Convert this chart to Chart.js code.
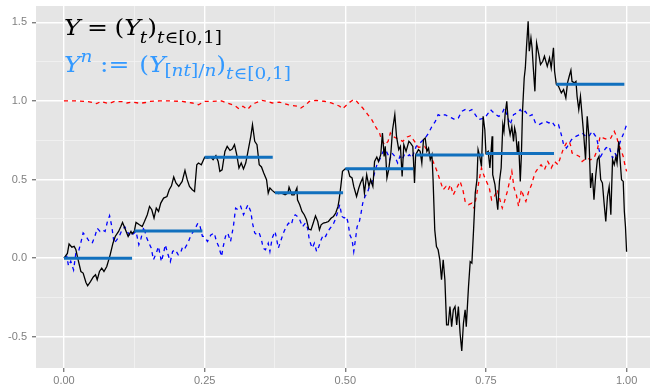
<!DOCTYPE html>
<html>
<head>
<meta charset="utf-8">
<script src="https://cdn.jsdelivr.net/npm/chart.js@4.4.1/dist/chart.umd.min.js"></script>
<style>
  html, body { margin: 0; padding: 0; background: #ffffff; }
  #wrap { width: 650px; height: 387px; position: relative; }
</style>
</head>
<body>
<div id="wrap"><canvas id="chart"></canvas></div>
<script>
// 路径 Y_t：[t, 值]
const pathY = [[0,0],[0.006,0.03],[0.009,0.09],[0.014,0.07],[0.018,0.075],[0.021,0.055],[0.025,-0.01],[0.030,-0.085],[0.034,-0.095],[0.039,-0.155],[0.042,-0.176],[0.047,-0.149],[0.052,-0.12],[0.056,-0.106],[0.059,-0.138],[0.063,-0.085],[0.067,-0.064],[0.071,-0.085],[0.076,-0.053],[0.082,0.021],[0.087,0.095],[0.091,0.138],[0.097,0.17],[0.101,0.201],[0.104,0.227],[0.108,0.191],[0.114,0.138],[0.119,0.17],[0.121,0.155],[0.125,0.172],[0.128,0.227],[0.134,0.212],[0.139,0.201],[0.143,0.233],[0.148,0.276],[0.152,0.329],[0.156,0.308],[0.160,0.255],[0.164,0.318],[0.168,0.297],[0.172,0.35],[0.177,0.382],[0.183,0.392],[0.187,0.435],[0.191,0.46],[0.195,0.516],[0.199,0.478],[0.204,0.456],[0.210,0.488],[0.215,0.558],[0.219,0.499],[0.223,0.456],[0.228,0.435],[0.232,0.424],[0.236,0.594],[0.239,0.605],[0.244,0.594],[0.248,0.626],[0.250,0.641],[0.255,0.637],[0.261,0.643],[0.265,0.626],[0.270,0.652],[0.274,0.615],[0.277,0.552],[0.281,0.562],[0.286,0.679],[0.290,0.711],[0.295,0.685],[0.299,0.694],[0.303,0.722],[0.307,0.658],[0.311,0.573],[0.315,0.605],[0.319,0.567],[0.323,0.605],[0.327,0.679],[0.332,0.775],[0.335,0.849],[0.339,0.743],[0.343,0.722],[0.347,0.594],[0.351,0.58],[0.355,0.541],[0.360,0.499],[0.363,0.414],[0.366,0.446],[0.370,0.431],[0.375,0.416],[0.381,0.41],[0.387,0.414],[0.393,0.403],[0.398,0.414],[0.400,0.452],[0.405,0.403],[0.409,0.403],[0.414,0.446],[0.415,0.371],[0.419,0.34],[0.423,0.297],[0.427,0.276],[0.431,0.244],[0.435,0.185],[0.439,0.18],[0.443,0.223],[0.447,0.269],[0.451,0.233],[0.454,0.18],[0.457,0.212],[0.461,0.223],[0.466,0.227],[0.470,0.233],[0.475,0.255],[0.479,0.265],[0.483,0.287],[0.487,0.329],[0.489,0.371],[0.492,0.456],[0.495,0.552],[0.500,0.569],[0.505,0.562],[0.508,0.52],[0.512,0.51],[0.515,0.456],[0.520,0.392],[0.524,0.446],[0.527,0.478],[0.531,0.51],[0.534,0.414],[0.538,0.531],[0.542,0.456],[0.545,0.499],[0.549,0.456],[0.552,0.615],[0.556,0.643],[0.559,0.615],[0.563,0.658],[0.566,0.796],[0.569,0.647],[0.571,0.711],[0.574,0.51],[0.577,0.562],[0.581,0.669],[0.584,0.817],[0.588,0.913],[0.591,0.775],[0.595,0.69],[0.598,0.711],[0.601,0.52],[0.604,0.722],[0.608,0.679],[0.613,0.743],[0.616,0.732],[0.620,0.711],[0.623,0.478],[0.625,0.656],[0.630,0.69],[0.633,0.679],[0.636,0.605],[0.639,0.754],[0.642,0.764],[0.645,0.679],[0.648,0.7],[0.651,0.626],[0.654,0.658],[0.656,0.499],[0.659,0.18],[0.662,0.074],[0.665,0.053],[0.668,-0.011],[0.671,-0.138],[0.674,-0.011],[0.677,-0.138],[0.680,-0.425],[0.683,-0.425],[0.686,-0.308],[0.689,-0.436],[0.692,-0.329],[0.695,-0.308],[0.698,-0.425],[0.701,-0.308],[0.704,-0.478],[0.707,-0.59],[0.710,-0.414],[0.713,-0.329],[0.715,-0.436],[0.719,-0.181],[0.722,-0.022],[0.725,-0.032],[0.728,0.18],[0.731,0.414],[0.734,0.499],[0.736,0.69],[0.739,0.647],[0.742,0.583],[0.745,0.902],[0.748,0.817],[0.750,0.666],[0.754,0.679],[0.757,0.573],[0.761,0.775],[0.762,0.531],[0.766,0.467],[0.768,0.403],[0.771,0.308],[0.774,0.488],[0.777,0.573],[0.780,0.849],[0.782,0.806],[0.784,0.913],[0.787,0.997],[0.790,0.849],[0.793,0.785],[0.796,0.838],[0.799,0.743],[0.801,0.828],[0.803,0.796],[0.806,0.658],[0.808,0.743],[0.811,0.488],[0.813,0.658],[0.815,0.934],[0.818,1.146],[0.820,1.21],[0.822,1.338],[0.825,1.507],[0.827,1.316],[0.830,1.401],[0.832,1.338],[0.834,1.22],[0.837,1.061],[0.840,1.369],[0.844,1.295],[0.847,1.231],[0.851,1.252],[0.854,1.284],[0.859,1.22],[0.863,1.274],[0.866,1.21],[0.870,1.338],[0.872,1.189],[0.875,1.106],[0.879,1.093],[0.884,1.051],[0.888,1.072],[0.892,1.019],[0.895,1.115],[0.898,1.157],[0.901,1.195],[0.903,1.125],[0.907,1.115],[0.910,1.125],[0.912,1.029],[0.915,0.945],[0.918,1.029],[0.921,0.902],[0.924,0.775],[0.927,0.626],[0.930,0.902],[0.933,0.775],[0.936,0.446],[0.939,0.541],[0.942,0.371],[0.945,0.52],[0.948,0.626],[0.951,0.647],[0.954,0.499],[0.957,0.478],[0.960,0.35],[0.963,0.233],[0.966,0.392],[0.969,0.456],[0.972,0.276],[0.975,0.626],[0.978,0.594],[0.981,0.647],[0.983,0.605],[0.986,0.743],[0.988,0.647],[0.991,0.499],[0.994,0.488],[0.996,0.297],[0.998,0.2],[1.0,0.04]];

// 蓝色虚线
const blueDash = [[0,0],[0.005,0.01],[0.008,-0.05],[0.012,-0.02],[0.017,-0.075],[0.021,0.03],[0.026,0.045],[0.030,0.1],[0.034,0.16],[0.039,0.14],[0.045,0.105],[0.050,0.095],[0.055,0.14],[0.059,0.19],[0.064,0.17],[0.068,0.18],[0.073,0.17],[0.077,0.23],[0.081,0.27],[0.085,0.2],[0.089,0.095],[0.094,0.117],[0.098,0.138],[0.102,0.17],[0.108,0.2],[0.114,0.16],[0.119,0.138],[0.121,0.148],[0.128,0.17],[0.133,0.085],[0.137,0.127],[0.142,0.2],[0.146,0.138],[0.151,0.095],[0.155,0.064],[0.159,-0.01],[0.164,0.032],[0.168,0.074],[0.173,-0.022],[0.177,0.032],[0.180,0.085],[0.185,0.021],[0.189,-0.022],[0.193,0.042],[0.198,0.053],[0.203,0.021],[0.207,0.032],[0.211,0.074],[0.215,0.064],[0.220,0.095],[0.226,0.148],[0.232,0.18],[0.238,0.223],[0.242,0.2],[0.246,0.138],[0.249,0.138],[0.255,0.106],[0.261,0.148],[0.267,0.16],[0.271,0.106],[0.275,0.074],[0.280,0.01],[0.283,0.074],[0.287,0.138],[0.291,0.16],[0.296,0.106],[0.301,0.2],[0.305,0.318],[0.309,0.308],[0.314,0.33],[0.319,0.276],[0.323,0.308],[0.327,0.34],[0.332,0.297],[0.335,0.223],[0.339,0.16],[0.343,0.148],[0.347,0.16],[0.351,0.117],[0.354,0.064],[0.358,0.053],[0.363,0.095],[0.366,0.042],[0.370,0.127],[0.375,0.17],[0.377,0.138],[0.381,0.064],[0.386,0.117],[0.390,0.16],[0.395,0.2],[0.399,0.223],[0.404,0.212],[0.408,0.265],[0.411,0.276],[0.415,0.265],[0.419,0.244],[0.424,0.2],[0.429,0.223],[0.433,0.19],[0.436,0.117],[0.441,0.064],[0.445,0.095],[0.449,0.042],[0.453,0.074],[0.457,0.117],[0.461,0.148],[0.465,0.138],[0.469,0.17],[0.473,0.19],[0.478,0.212],[0.482,0.244],[0.486,0.287],[0.490,0.34],[0.494,0.265],[0.498,0.255],[0.502,0.265],[0.505,0.223],[0.508,0.148],[0.512,0.117],[0.515,0.042],[0.518,0.117],[0.521,0.2],[0.525,0.233],[0.528,0.287],[0.531,0.35],[0.535,0.392],[0.539,0.414],[0.543,0.456],[0.547,0.478],[0.552,0.541],[0.557,0.605],[0.561,0.626],[0.566,0.669],[0.569,0.69],[0.573,0.679],[0.576,0.658],[0.579,0.626],[0.583,0.669],[0.588,0.647],[0.593,0.605],[0.597,0.647],[0.601,0.626],[0.605,0.658],[0.610,0.647],[0.614,0.658],[0.618,0.637],[0.623,0.679],[0.626,0.711],[0.630,0.722],[0.636,0.743],[0.642,0.764],[0.648,0.796],[0.654,0.838],[0.660,0.87],[0.665,0.913],[0.671,0.902],[0.677,0.913],[0.683,0.902],[0.689,0.892],[0.695,0.881],[0.701,0.892],[0.707,0.934],[0.713,0.945],[0.719,0.934],[0.725,0.945],[0.731,0.913],[0.737,0.881],[0.748,0.892],[0.754,0.923],[0.758,0.945],[0.761,0.934],[0.767,0.913],[0.773,0.902],[0.779,0.923],[0.783,0.955],[0.787,0.913],[0.793,0.849],[0.799,0.913],[0.805,0.923],[0.811,0.945],[0.815,0.923],[0.820,0.934],[0.826,0.902],[0.832,0.913],[0.838,0.86],[0.844,0.849],[0.850,0.86],[0.856,0.87],[0.862,0.86],[0.867,0.87],[0.873,0.838],[0.879,0.849],[0.884,0.785],[0.888,0.722],[0.893,0.7],[0.897,0.722],[0.902,0.754],[0.910,0.775],[0.916,0.785],[0.921,0.796],[0.927,0.775],[0.933,0.775],[0.939,0.807],[0.945,0.775],[0.948,0.743],[0.951,0.69],[0.954,0.647],[0.959,0.679],[0.963,0.7],[0.969,0.711],[0.975,0.637],[0.979,0.669],[0.983,0.647],[0.986,0.711],[0.990,0.754],[0.995,0.796],[1.0,0.849]];

// 红色虚线
const redDash = [[0,1.0],[0.020,1.0],[0.040,0.997],[0.052,0.99],[0.058,0.983],[0.066,0.997],[0.079,0.983],[0.090,0.997],[0.105,0.995],[0.112,0.987],[0.122,0.993],[0.135,0.985],[0.145,0.99],[0.152,0.997],[0.170,1.0],[0.190,1.0],[0.210,0.997],[0.228,0.987],[0.239,0.976],[0.250,0.997],[0.262,0.997],[0.280,1.0],[0.290,0.987],[0.299,0.976],[0.305,0.966],[0.311,0.949],[0.318,0.966],[0.326,0.945],[0.334,0.976],[0.340,0.987],[0.352,1.004],[0.362,0.997],[0.370,0.987],[0.383,0.992],[0.398,0.976],[0.415,0.966],[0.421,0.955],[0.430,0.976],[0.436,0.997],[0.448,1.004],[0.462,0.998],[0.475,0.987],[0.484,0.976],[0.490,0.966],[0.495,0.949],[0.500,0.966],[0.506,0.987],[0.513,1.004],[0.518,1.008],[0.525,0.976],[0.531,0.955],[0.540,0.913],[0.547,0.881],[0.555,0.828],[0.561,0.796],[0.564,0.754],[0.570,0.72],[0.576,0.743],[0.580,0.796],[0.584,0.775],[0.590,0.764],[0.596,0.754],[0.602,0.743],[0.610,0.771],[0.616,0.779],[0.623,0.743],[0.630,0.705],[0.641,0.711],[0.647,0.679],[0.656,0.615],[0.662,0.562],[0.668,0.499],[0.674,0.435],[0.679,0.456],[0.683,0.435],[0.687,0.467],[0.692,0.403],[0.698,0.446],[0.704,0.488],[0.709,0.435],[0.713,0.361],[0.719,0.34],[0.725,0.35],[0.729,0.318],[0.734,0.414],[0.738,0.499],[0.742,0.573],[0.747,0.52],[0.751,0.488],[0.756,0.446],[0.760,0.371],[0.765,0.392],[0.770,0.435],[0.774,0.382],[0.779,0.318],[0.783,0.361],[0.788,0.424],[0.792,0.488],[0.796,0.552],[0.800,0.446],[0.804,0.403],[0.808,0.329],[0.813,0.435],[0.817,0.392],[0.821,0.361],[0.826,0.424],[0.831,0.467],[0.837,0.541],[0.843,0.573],[0.848,0.594],[0.854,0.562],[0.860,0.615],[0.866,0.573],[0.872,0.615],[0.878,0.594],[0.884,0.658],[0.888,0.70],[0.893,0.732],[0.898,0.743],[0.901,0.711],[0.903,0.669],[0.910,0.658],[0.916,0.647],[0.921,0.615],[0.925,0.626],[0.930,0.637],[0.936,0.626],[0.942,0.637],[0.948,0.69],[0.953,0.775],[0.959,0.764],[0.966,0.754],[0.972,0.764],[0.978,0.807],[0.982,0.775],[0.986,0.722],[0.990,0.69],[0.994,0.647],[0.997,0.594],[1.0,0.552]];

// 阶梯近似 Y^n（n = 8），每段取 Y 在 k/n 处的值
const stepN = 8;
const stepValues = [0, 0.172, 0.641, 0.416, 0.569, 0.656, 0.666, 1.106];

// 刻度
const xMajorTicks = [0, 0.25, 0.5, 0.75, 1.0];
const xMinorTicks = [0.125, 0.375, 0.625, 0.875];
const yMajorTicks = [-0.5, 0, 0.5, 1.0, 1.5];
const yMinorTicks = [-0.25, 0.25, 0.75, 1.25];

const toXY = arr => arr.map(p => ({ x: p[0], y: p[1] }));

// 阶梯线段，段间以 null 断开
const stepData = [];
stepValues.forEach((v, k) => {
    stepData.push({ x: k / stepN, y: v });
    stepData.push({ x: (k + 1) / stepN - 0.004, y: v });
    stepData.push({ x: (k + 1) / stepN - 0.002, y: null });
});

const makeTicks = (major, minor) => major.concat(minor).sort((a, b) => a - b).map(v => ({ value: v }));
const isMinor = (list, v) => list.some(m => Math.abs(m - v) < 1e-9);

// 面板背景
const panelBg = {
    id: 'panelBg',
    beforeDraw(chart) {
        const { ctx, chartArea: a } = chart;
        ctx.save();
        ctx.fillStyle = '#E5E5E5';
        ctx.fillRect(a.left, a.top, a.right - a.left, a.bottom - a.top);
        ctx.restore();
    }
};

// 左上角公式文字：顺序排布，再横向缩放到目标宽度
const SERIF = '"DejaVu Serif", "Liberation Serif", serif';
function drawFormula(ctx, x0, y0, width, runs, color) {
    const fontOf = r => (r.i ? 'italic ' : '') + r.s + 'px ' + SERIF;
    let total = 0;
    runs.forEach(r => { ctx.font = fontOf(r); total += ctx.measureText(r.t).width + (r.g || 0); });
    ctx.save();
    ctx.translate(x0, y0);
    ctx.scale(width / total, 1);
    ctx.fillStyle = color;
    ctx.textBaseline = 'alphabetic';
    ctx.textAlign = 'left';
    let x = 0;
    runs.forEach(r => {
        ctx.font = fontOf(r);
        ctx.fillText(r.t, x, r.dy || 0);
        x += ctx.measureText(r.t).width + (r.g || 0);
    });
    ctx.restore();
}
const formulaText = {
    id: 'formulaText',
    afterDraw(chart) {
        const ctx = chart.ctx;
        drawFormula(ctx, 64, 35, 158, [
            { t: 'Y', i: 1, s: 23, g: 6 }, { t: '=', s: 23, g: 6 }, { t: '(', s: 23 },
            { t: 'Y', i: 1, s: 23, g: -1 }, { t: 't', i: 1, s: 17, dy: 8 }, { t: ')', s: 23 },
            { t: 't', i: 1, s: 17, dy: 8 }, { t: '∈[0,1]', s: 17, dy: 8 }
        ], '#000000');
        drawFormula(ctx, 64, 72, 227, [
            { t: 'Y', i: 1, s: 23 }, { t: 'n', i: 1, s: 17, dy: -10, g: 7 },
            { t: ':=', s: 23, g: 9 }, { t: '(', s: 23 },
            { t: 'Y', i: 1, s: 23, g: -1 }, { t: '[', s: 17, dy: 4 }, { t: 'nt', i: 1, s: 17, dy: 4 },
            { t: ']/', s: 17, dy: 4 }, { t: 'n', i: 1, s: 17, dy: 4 }, { t: ')', s: 23 },
            { t: 't', i: 1, s: 17, dy: 7 }, { t: '∈[0,1]', s: 17, dy: 7 }
        ], '#3399FF');
    }
};

const tickFont = { family: '"Liberation Sans", Arial, sans-serif', size: 11 };

new Chart(document.getElementById('chart').getContext('2d'), {
    type: 'line',
    data: {
        datasets: [
            { data: stepData, borderColor: '#1170BE', borderWidth: 3, spanGaps: false, order: 0 },
            { data: toXY(pathY), borderColor: '#000000', borderWidth: 1.3, order: 1 },
            { data: toXY(redDash), borderColor: '#FF0000', borderWidth: 1.3, borderDash: [4, 4], order: 2 },
            { data: toXY(blueDash), borderColor: '#0000FF', borderWidth: 1.3, borderDash: [4, 4], order: 3 }
        ]
    },
    options: {
        responsive: true,
        maintainAspectRatio: false,
        animation: false,
        layout: { padding: { top: 6, left: 0, right: 0, bottom: 0 } },
        elements: { point: { radius: 0 }, line: { tension: 0, borderCapStyle: 'butt' } },
        plugins: { legend: { display: false }, tooltip: { enabled: false } },
        scales: {
            x: {
                type: 'linear',
                min: -0.0498,
                max: 1.0416,
                afterBuildTicks: s => { s.ticks = makeTicks(xMajorTicks, xMinorTicks); },
                afterFit: s => { s.height = 19; s.paddingLeft = 0; s.paddingRight = 0; },
                border: { display: false },
                grid: {
                    color: c => isMinor(xMinorTicks, c.tick.value) ? '#F2F2F2' : '#FFFFFF',
                    lineWidth: c => isMinor(xMinorTicks, c.tick.value) ? 0.8 : 1.4,
                    tickColor: c => isMinor(xMinorTicks, c.tick.value) ? 'rgba(0,0,0,0)' : '#7F7F7F',
                    tickLength: 4
                },
                ticks: {
                    color: '#7F7F7F',
                    font: tickFont,
                    padding: 2,
                    maxRotation: 0,
                    autoSkip: false,
                    callback: v => isMinor(xMinorTicks, v) ? '' : v.toFixed(2)
                }
            },
            y: {
                type: 'linear',
                min: -0.699,
                max: 1.604,
                afterBuildTicks: s => { s.ticks = makeTicks(yMajorTicks, yMinorTicks); },
                afterFit: s => { s.width = 36; s.paddingTop = 0; s.paddingBottom = 0; },
                border: { display: false },
                grid: {
                    color: c => isMinor(yMinorTicks, c.tick.value) ? '#F2F2F2' : '#FFFFFF',
                    lineWidth: c => isMinor(yMinorTicks, c.tick.value) ? 0.8 : 1.4,
                    tickColor: c => isMinor(yMinorTicks, c.tick.value) ? 'rgba(0,0,0,0)' : '#7F7F7F',
                    tickLength: 4
                },
                ticks: {
                    color: '#7F7F7F',
                    font: tickFont,
                    padding: 5,
                    autoSkip: false,
                    callback: v => isMinor(yMinorTicks, v) ? '' : v.toFixed(1)
                }
            }
        }
    },
    plugins: [panelBg, formulaText]
});
</script>
</body>
</html>
